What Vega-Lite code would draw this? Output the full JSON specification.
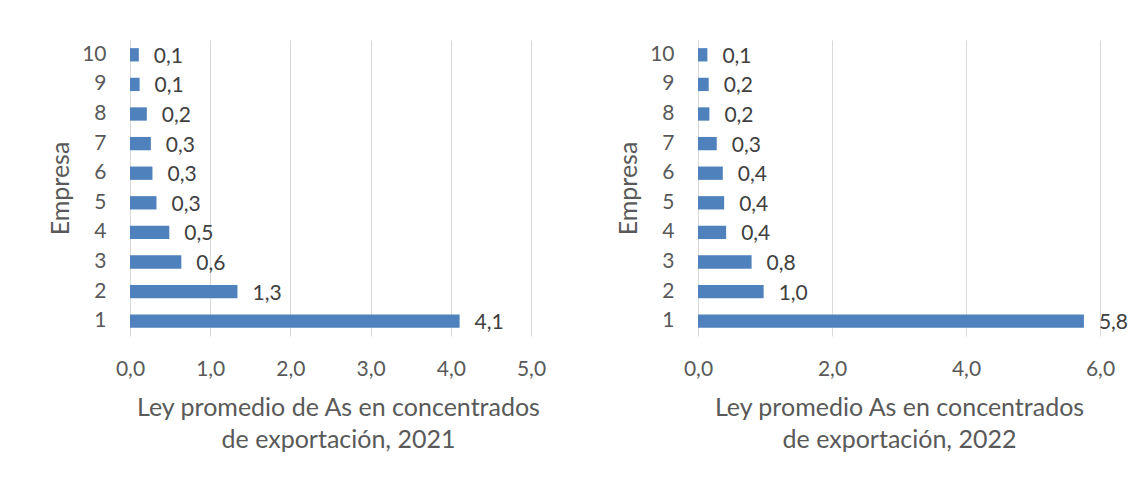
{
  "$schema": "https://vega.github.io/schema/vega-lite/v6.json",
  "padding": {"left": 48, "top": 40, "right": 5, "bottom": 5},
  "background": "white",
  "config": {
    "locale": {"number": {"decimal": ",", "thousands": ".", "grouping": [3], "currency": ["", " €"]}},
    "view": {"stroke": null},
    "font": "Lato",
    "axis": {"labelFont": "Lato", "titleFont": "Lato", "labelColor": "#595959", "titleColor": "#595959", "labelFontSize": 21, "titleFontSize": 25, "titleFontWeight": "normal", "domain": false, "ticks": false},
    "concat": {"spacing": 70}
  },
  "datasets": {
    "d2021": [
      {"empresa": 1, "ley": 4.11},
      {"empresa": 2, "ley": 1.34},
      {"empresa": 3, "ley": 0.64},
      {"empresa": 4, "ley": 0.49},
      {"empresa": 5, "ley": 0.33},
      {"empresa": 6, "ley": 0.28},
      {"empresa": 7, "ley": 0.26},
      {"empresa": 8, "ley": 0.21},
      {"empresa": 9, "ley": 0.12},
      {"empresa": 10, "ley": 0.11}
    ],
    "d2022": [
      {"empresa": 1, "ley": 5.76},
      {"empresa": 2, "ley": 0.98},
      {"empresa": 3, "ley": 0.8},
      {"empresa": 4, "ley": 0.42},
      {"empresa": 5, "ley": 0.39},
      {"empresa": 6, "ley": 0.37},
      {"empresa": 7, "ley": 0.28},
      {"empresa": 8, "ley": 0.17},
      {"empresa": 9, "ley": 0.16},
      {"empresa": 10, "ley": 0.14}
    ]
  },
  "hconcat": [
    {
      "width": 401,
      "height": 296,
      "data": {"name": "d2021"},
      "encoding": {
        "y": {"field": "empresa", "type": "ordinal", "sort": "descending",
              "scale": {"paddingInner": 0.55, "paddingOuter": 0.275},
              "axis": {"title": "Empresa", "labelPadding": 24, "titlePadding": 8, "grid": false, "labelAngle": 0}},
        "x": {"field": "ley", "type": "quantitative",
              "scale": {"domain": [0, 5], "nice": false},
              "axis": {"values": [0, 1, 2, 3, 4, 5], "format": ".1f", "grid": true, "gridColor": "#d9d9d9", "labelPadding": 22, "labelFlush": false,
                       "title": ["Ley promedio de As en concentrados", "de exportación, 2021"], "titlePadding": 16, "titleLineHeight": 32, "titleX": 208}}
      },
      "layer": [
        {"mark": {"type": "bar", "color": "#4f81bd"}},
        {"mark": {"type": "text", "align": "left", "baseline": "middle", "dx": 15, "dy": 2, "fontSize": 21, "color": "#404040"},
         "encoding": {"text": {"field": "ley", "type": "quantitative", "format": ".1f"}}}
      ]
    },
    {
      "width": 402,
      "height": 296,
      "data": {"name": "d2022"},
      "encoding": {
        "y": {"field": "empresa", "type": "ordinal", "sort": "descending",
              "scale": {"paddingInner": 0.55, "paddingOuter": 0.275},
              "axis": {"title": "Empresa", "labelPadding": 24, "titlePadding": 8, "grid": false, "labelAngle": 0}},
        "x": {"field": "ley", "type": "quantitative",
              "scale": {"domain": [0, 6], "nice": false},
              "axis": {"values": [0, 2, 4, 6], "format": ".1f", "grid": true, "gridColor": "#d9d9d9", "labelPadding": 22, "labelFlush": false,
                       "title": ["Ley promedio As en concentrados", "de exportación, 2022"], "titlePadding": 16, "titleLineHeight": 32, "titleX": 201}}
      },
      "layer": [
        {"mark": {"type": "bar", "color": "#4f81bd"}},
        {"mark": {"type": "text", "align": "left", "baseline": "middle", "dx": 15, "dy": 2, "fontSize": 21, "color": "#404040"},
         "encoding": {"text": {"field": "ley", "type": "quantitative", "format": ".1f"}}}
      ]
    }
  ]
}
